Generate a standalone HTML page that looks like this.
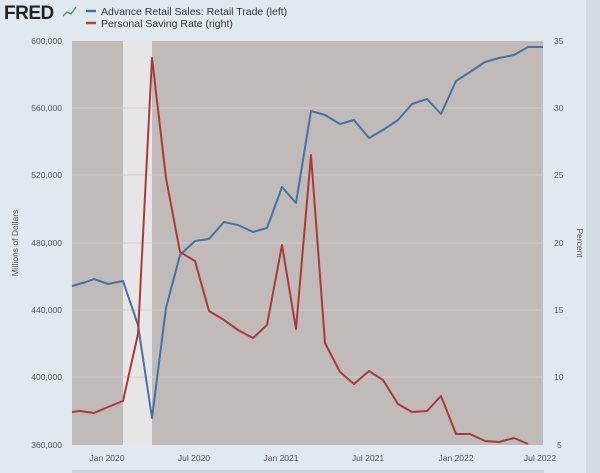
<!DOCTYPE html>
<html><head><meta charset="utf-8"><style>
body{margin:0;background:#e1e9f0;}
svg{display:block;font-family:"Liberation Sans",sans-serif;}
</style></head><body>
<svg width="600" height="473" viewBox="0 0 600 473">
<rect width="600" height="473" fill="#e1e9f0"/>
<rect x="586" y="0" width="14" height="473" fill="#d3dbe2"/>
<text x="4" y="19" font-size="19" font-weight="bold" fill="#222" letter-spacing="-0.5">FRED</text>
<polyline points="63,16 67,12 71,14 76,7" fill="none" stroke="#5a9a5a" stroke-width="1.5"/>
<line x1="86" y1="11" x2="96" y2="11" stroke="#4572a7" stroke-width="2.5"/>
<text x="101" y="15" font-size="10.5" fill="#333">Advance Retail Sales: Retail Trade (left)</text>
<line x1="86" y1="23" x2="96" y2="23" stroke="#aa4643" stroke-width="2.5"/>
<text x="101" y="27" font-size="10.5" fill="#333">Personal Saving Rate (right)</text>
<rect x="72" y="41" width="471" height="404" fill="#c0bab8"/>
<rect x="123" y="41" width="29" height="404" fill="#e7e5e5"/>
<g stroke="#d4cfcd" stroke-width="1">
<line x1="72" y1="108" x2="543" y2="108"/><line x1="72" y1="175" x2="543" y2="175"/>
<line x1="72" y1="243" x2="543" y2="243"/><line x1="72" y1="310" x2="543" y2="310"/>
<line x1="72" y1="377" x2="543" y2="377"/>
</g>
<g font-size="8.5" fill="#555" text-anchor="end">
<text x="62" y="44">600,000</text><text x="62" y="111">560,000</text><text x="62" y="178">520,000</text>
<text x="62" y="246">480,000</text><text x="62" y="313">440,000</text><text x="62" y="380">400,000</text><text x="62" y="448">360,000</text>
</g>
<g font-size="8.5" fill="#555">
<text x="554" y="44">35</text><text x="554" y="111">30</text><text x="554" y="178">25</text>
<text x="554" y="246">20</text><text x="554" y="313">15</text><text x="554" y="380">10</text><text x="557" y="448">5</text>
</g>
<g font-size="8.5" fill="#555" text-anchor="middle">
<text x="107" y="461">Jan 2020</text><text x="194" y="461">Jul 2020</text><text x="281" y="461">Jan 2021</text>
<text x="368" y="461">Jul 2021</text><text x="456" y="461">Jan 2022</text><text x="540" y="461">Jul 2022</text>
</g>
<text transform="translate(18,243) rotate(-90)" font-size="8.5" fill="#555" text-anchor="middle">Millions of Dollars</text>
<text transform="translate(577,243) rotate(90)" font-size="8.5" fill="#555" text-anchor="middle">Percent</text>
<rect x="72" y="470" width="472" height="3" fill="#cdd5dc"/>
<polyline fill="none" stroke="#4572a7" stroke-width="2" stroke-linejoin="round" points="72,286 86,282 94,279 108,284 123,281 138,325 152,418 166,308 180,255 195,241 209,239 224,222 238,225 253,232 267,228 282,187 296,203 311,111 325,115 340,124 354,120 369,138 383,130 398,120 412,104 427,99 441,114 456,81 470,72 485,62 499,58 514,55 528,47 543,47"/>
<polyline fill="none" stroke="#aa3a3a" stroke-width="2" stroke-linejoin="round" points="72,412 80,411 94,413 108,407 123,401 138,334 152,58 166,178 180,252 195,261 209,311 224,320 238,330 253,338 267,325 282,245 296,329 311,155 325,343 340,372 354,384 369,371 383,380 398,404 412,412 427,411 441,396 456,434 470,434 485,441 499,442 514,438 528,444"/>
</svg>
</body></html>
